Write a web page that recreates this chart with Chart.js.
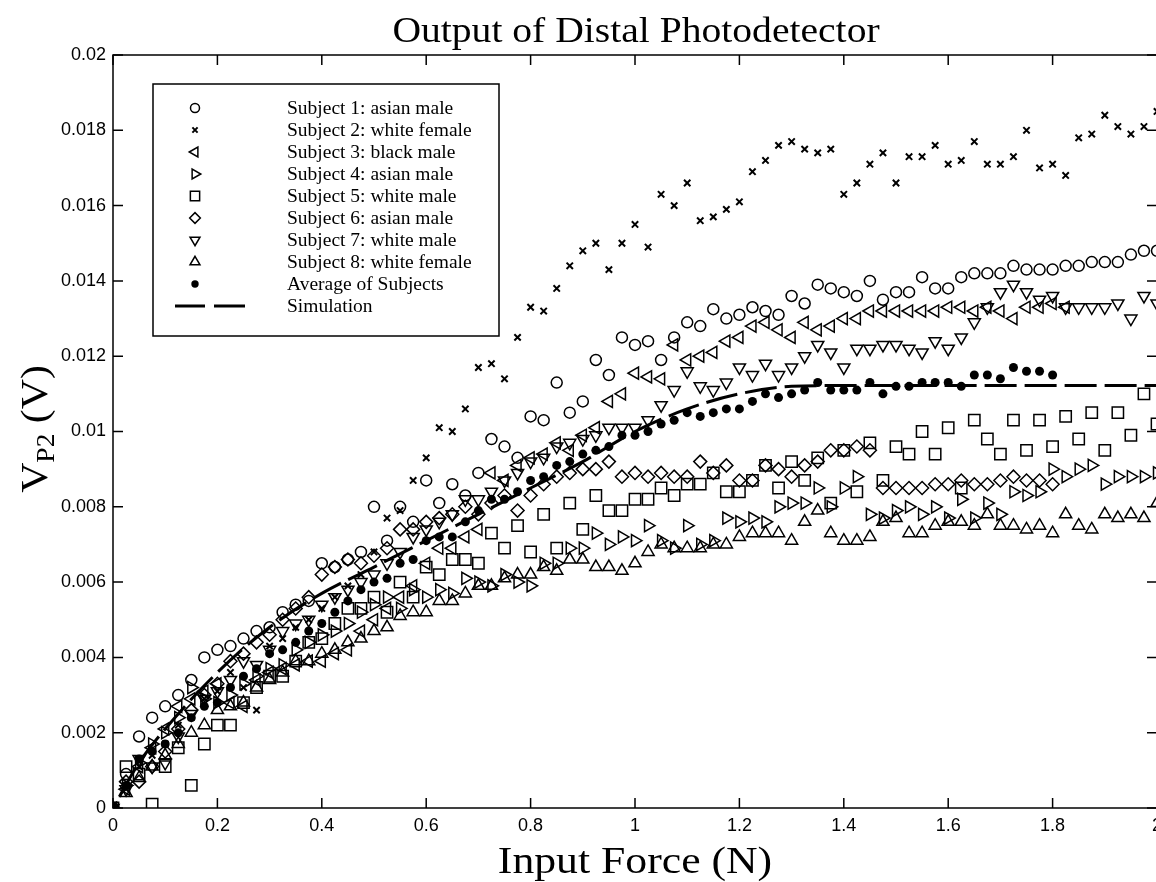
<!DOCTYPE html>
<html>
<head>
<meta charset="utf-8">
<script src="https://cdn.jsdelivr.net/npm/chart.js@4/dist/chart.umd.min.js"></script>
<style>
html,body{margin:0;padding:0;background:#fff;overflow:hidden;width:1156px;height:882px;}
canvas{display:block;}
</style>
</head>
<body>
<canvas id="c" width="1170" height="882"></canvas>
<script>
// ---- data ----
const forces = [0,0.025,0.05,0.075,0.1,0.125,0.15,0.175,0.2,0.225,
 0.25,0.275,0.3,0.325,0.35,0.375,0.4,0.425,0.45,0.475,
 0.5,0.525,0.55,0.575,0.6,0.625,0.65,0.675,0.7,0.725,
 0.75,0.775,0.8,0.825,0.85,0.875,0.9,0.925,0.95,0.975,
 1.0,1.025,1.05,1.075,1.1,1.125,1.15,1.175,1.2,1.225,
 1.25,1.275,1.3,1.325,1.35,1.375,1.4,1.425,1.45,1.475,
 1.5,1.525,1.55,1.575,1.6,1.625,1.65,1.675,1.7,1.725,
 1.75,1.775,1.8,1.825,1.85,1.875,1.9,1.925,1.95,1.975,
 2.0];

const subject1 = [0,0.0009,0.0019,0.0024,0.0027,0.0030,0.0034,0.0040,0.0042,0.0043,
 0.0045,0.0047,0.0048,0.0052,0.0054,0.0055,0.0065,0.0064,0.0066,0.0068,
 0.0080,0.0071,0.0080,0.0076,0.0087,0.0081,0.0086,0.0083,0.0089,0.0098,
 0.0096,0.0093,0.0104,0.0103,0.0113,0.0105,0.0108,0.0119,0.0115,0.0125,
 0.0123,0.0124,0.0119,0.0125,0.0129,0.0128,0.01325,0.0130,0.0131,0.0133,
 0.0132,0.0131,0.0136,0.0134,0.0139,0.0138,0.0137,0.0136,0.0140,0.0135,
 0.0137,0.0137,0.0141,0.0138,0.0138,0.0141,0.0142,0.0142,0.0142,0.0144,
 0.0143,0.0143,0.0143,0.0144,0.0144,0.0145,0.0145,0.0145,0.0147,0.0148,
 0.0148];

const subject2 = [0,0.0005,0.0011,0.0014,0.0017,0.0022,0.0024,0.0029,0.0031,0.0036,
 0.0032,0.0026,0.0043,0.0045,0.0048,0.0050,0.0053,0.0056,0.0059,0.0062,
 0.0068,0.0077,0.0079,0.0087,0.0093,0.0101,0.0100,0.0106,0.0117,0.0118,
 0.0114,0.0125,0.0133,0.0132,0.0138,0.0144,0.0148,0.0150,0.0143,0.0150,
 0.0155,0.0149,0.0163,0.0160,0.0166,0.0156,0.0157,0.0159,0.0161,0.0169,
 0.0172,0.0176,0.0177,0.0175,0.0174,0.0175,0.0163,0.0166,0.0171,0.0174,
 0.0166,0.0173,0.0173,0.0176,0.0171,0.0172,0.0177,0.0171,0.0171,0.0173,
 0.0180,0.0170,0.0171,0.0168,0.0178,0.0179,0.0184,0.0181,0.0179,0.0181,
 0.0185];

const subject3 = [0,0.0005,0.0011,0.0016,0.0021,0.0027,0.0029,0.0031,0.0033,0.0028,
 0.0027,0.0034,0.0036,0.0037,0.0038,0.0039,0.0039,0.0041,0.0042,0.0047,
 0.0050,0.0053,0.0056,0.0059,0.0065,0.0069,0.0069,0.0072,0.0074,0.0089,
 0.0087,0.0091,0.0093,0.0094,0.0097,0.0095,0.0099,0.0101,0.0108,0.0110,
 0.01155,0.01145,0.0114,0.0123,0.0119,0.0120,0.0121,0.0124,0.0125,0.0128,
 0.0129,0.0127,0.0125,0.0129,0.0127,0.0128,0.0130,0.0130,0.0132,0.0132,
 0.0132,0.0132,0.0132,0.0132,0.0133,0.0133,0.0132,0.0133,0.0132,0.0130,
 0.0133,0.0133,0.0134,0.0133,null,null,null,null,null,null,
 null];

const subject4 = [0,0.0006,0.0012,0.0017,0.0020,0.0024,0.0032,0.0029,0.0028,0.0030,
 0.0033,0.0035,0.0037,0.0038,0.0042,0.0044,0.0046,0.0047,0.0049,0.0052,
 0.0054,0.0056,0.0053,0.0058,0.0056,0.0058,0.0057,0.0061,0.0060,0.0059,
 0.0062,0.0060,0.0059,0.0065,0.0065,0.0069,0.0069,0.0073,0.0070,0.0072,
 0.0071,0.0075,0.0071,0.0069,0.0075,0.0070,0.0071,0.0077,0.0076,0.0077,
 0.0076,0.0080,0.0081,0.0081,0.0085,0.0080,0.0085,0.0088,0.0078,0.0077,
 0.0079,0.0080,0.0078,0.0080,0.0077,0.0082,0.0077,0.0081,0.0078,0.0084,
 0.0083,0.0084,0.0090,0.0088,0.0090,0.0091,0.0086,0.0088,0.0088,0.0088,
 0.0089];

const subject5 = [0,0.0011,0.0009,0.0001,0.0011,0.0016,0.0006,0.0017,0.0022,0.0022,
 0.0028,0.0032,0.0035,0.0035,0.0039,0.0044,0.0045,0.0049,0.0053,0.0053,
 0.0056,0.0052,0.0060,0.0056,0.0064,0.0062,0.0066,0.0066,0.0065,0.0073,
 0.0069,0.0075,0.0068,0.0078,0.0069,0.0081,0.0074,0.0083,0.0079,0.0079,
 0.0082,0.0082,0.0085,0.0083,0.0086,0.0086,0.0089,0.0084,0.0084,0.0087,
 0.0091,0.0085,0.0092,0.0087,0.0093,0.0081,0.0095,0.0084,0.0097,0.0087,
 0.0096,0.0094,0.0100,0.0094,0.0101,0.0085,0.0103,0.0098,0.0094,0.0103,
 0.0095,0.0103,0.0096,0.0104,0.0098,0.0105,0.0095,0.0105,0.0099,0.0110,
 0.0102];

const subject6 = [0,0.0007,0.0007,0.0011,0.0015,0.0021,0.0026,0.0030,0.0033,0.0039,
 0.0041,0.0044,0.0046,0.0050,0.0053,0.0056,0.0062,0.0064,0.0066,0.0065,
 0.0067,0.0069,0.0074,0.0074,0.0076,0.0077,0.0078,0.0080,0.0078,0.0081,
 0.0083,0.0079,0.0083,0.0086,0.0088,0.0089,0.0090,0.0090,0.0092,0.0088,
 0.0089,0.0088,0.0089,0.0088,0.0088,0.0092,0.0089,0.0091,0.0087,0.0087,
 0.0091,0.0090,0.0088,0.0091,0.0092,0.0095,0.0095,0.0096,0.0095,0.0085,
 0.0085,0.0085,0.0085,0.0086,0.0086,0.0087,0.0086,0.0086,0.0087,0.0088,
 0.0087,0.0087,0.0086,null,null,null,null,null,null,null,
 null];

const subject7 = [0,0.0005,0.0013,0.0011,0.0012,0.0019,0.0025,0.0029,0.0031,0.0034,
 0.0039,0.0038,0.0042,0.0047,0.0049,0.0050,0.0054,0.0056,0.0058,0.0060,
 0.0062,0.0065,0.0068,0.0072,0.0074,0.0076,0.0078,0.0082,0.0082,0.0084,
 0.0087,0.0089,0.0092,0.0093,0.0096,0.0097,0.0098,0.0099,0.0101,0.0101,
 0.0101,0.0103,0.0107,0.0111,0.0116,0.0112,0.0111,0.0113,0.0117,0.0115,
 0.0118,0.0115,0.0117,0.0120,0.0123,0.0121,0.0117,0.0122,0.0122,0.0123,
 0.0123,0.0122,0.0121,0.0124,0.0122,0.0125,0.0129,0.0133,0.0137,0.0139,
 0.0137,0.0135,0.0136,0.0133,0.0133,0.0133,0.0133,0.0134,0.0130,0.0136,
 0.0134];

const subject8 = [0,0.0004,0.0008,0.0011,0.0014,0.0017,0.0020,0.0022,0.0026,0.0027,
 0.0028,0.0032,0.0034,0.0036,0.0039,0.0039,0.0041,0.0042,0.0044,0.0045,
 0.0047,0.0048,0.0051,0.0052,0.0052,0.0055,0.0055,0.0057,0.0059,0.0059,
 0.0061,0.0062,0.0062,0.0064,0.0063,0.0066,0.0066,0.0064,0.0064,0.0063,
 0.0065,0.0068,0.0070,0.0069,0.0069,0.0069,0.0070,0.0070,0.0072,0.0073,
 0.0073,0.0073,0.0071,0.0076,0.0079,0.0073,0.0071,0.0071,0.0072,0.0076,
 0.0077,0.0073,0.0073,0.0075,0.0076,0.0076,0.0075,0.0078,0.0075,0.0075,
 0.0074,0.0075,0.0073,0.0078,0.0075,0.0074,0.0078,0.0077,0.0078,0.0077,
 0.0081];

const average = [0,0.0006,0.0013,0.0015,0.0017,0.0020,0.0024,0.0027,0.0028,0.0032,
 0.0035,0.0037,0.0041,0.0042,0.0044,0.0047,0.0049,0.0052,0.0055,0.0058,
 0.0060,0.0061,0.0065,0.0066,0.0071,0.0072,0.0072,0.0076,0.0079,0.0082,
 0.0082,0.0084,0.0087,0.0088,0.0091,0.0092,0.0094,0.0095,0.0096,0.0099,
 0.0099,0.0100,0.0102,0.0103,0.0105,0.0104,0.0105,0.0106,0.0106,0.0108,
 0.0110,0.0109,0.0110,0.0111,0.0113,0.0111,0.0111,0.0111,0.0113,0.0110,
 0.0112,0.0112,0.0113,0.0113,0.0113,0.0112,0.0115,0.0115,0.0114,0.0117,
 0.0116,0.0116,0.0115,null,null,null,null,null,null,null,
 null];

const simForce = [0,0.05,0.1,0.2,0.3,0.4,0.5,0.6,0.7,0.8,0.9,1.0,1.1,1.2,1.3,1.4,1.6,1.8,2.0];
const simValue = [0,0.0012,0.0021,0.0036,0.0048,0.0057,0.0064,0.0071,0.0078,0.0085,0.0092,0.0100,0.0106,0.0110,0.0112,0.01122,0.01122,0.01122,0.01122];

const xTicks = [0,0.2,0.4,0.6,0.8,1,1.2,1.4,1.6,1.8,2];
const yTicks = [0,0.002,0.004,0.006,0.008,0.01,0.012,0.014,0.016,0.018,0.02];

const labels = ['Subject 1: asian male','Subject 2: white female','Subject 3: black male',
 'Subject 4: asian male','Subject 5: white male','Subject 6: asian male',
 'Subject 7: white male','Subject 8: white female','Average of Subjects','Simulation'];

// ---- build datasets ----
function pts(xs, ys){ const out=[]; for(let i=0;i<xs.length;i++){ if(ys[i]!==null && ys[i]!==undefined) out.push({x:xs[i], y:ys[i]}); } return out; }
const HOLLOW='rgba(0,0,0,0)';
function marker(label, ys, style, radius, rotation, bw){
  return {label, data: pts(forces, ys), showLine:false, pointStyle:style, pointRadius:radius,
    pointHoverRadius:radius, pointRotation:rotation, pointBorderWidth:bw,
    borderColor:'#000', backgroundColor:HOLLOW, pointBackgroundColor:HOLLOW, pointBorderColor:'#000'};
}
const datasets = [
  marker(labels[0], subject1, 'circle', 5.5, 0, 1.5),
  marker(labels[1], subject2, 'crossRot', 4.5, 0, 2),
  marker(labels[2], subject3, 'triangle', 7, 270, 1.5),
  marker(labels[3], subject4, 'triangle', 7, 90, 1.5),
  marker(labels[4], subject5, 'rect', 8, 0, 1.5),
  marker(labels[5], subject6, 'rectRot', 6.5, 0, 1.5),
  marker(labels[6], subject7, 'triangle', 7, 180, 1.5),
  marker(labels[7], subject8, 'triangle', 7, 0, 1.5),
  {label: labels[8], data: pts(forces, average), showLine:false, pointStyle:'circle', pointRadius:4.5,
    pointBorderWidth:0, pointBackgroundColor:'#000', pointBorderColor:'#000', backgroundColor:'#000', borderColor:'#000'},
  {label: labels[9], data: pts(simForce, simValue), showLine:true, pointRadius:0, borderColor:'#000',
    borderWidth:3, borderDash:[32,8], borderDashOffset:27, cubicInterpolationMode:'monotone', fill:false}
];

// draw text stretched horizontally (in its own direction) to match the scanned figure
function stretchedText(ctx, text, x, y, sx){
  ctx.save(); ctx.translate(x, y); ctx.scale(sx, 1); ctx.fillText(text, 0, 0); ctx.restore();
}

// ---- plugins ----
const framePlugin = {
  id:'frame',
  afterDraw(chart){
    const ctx=chart.ctx, a=chart.chartArea, xs=chart.scales.x, ys=chart.scales.y;
    ctx.save();
    ctx.strokeStyle='#000'; ctx.lineWidth=1.5;
    ctx.strokeRect(a.left, a.top, a.right-a.left, a.bottom-a.top);
    ctx.beginPath();
    xTicks.forEach(v=>{ const x=xs.getPixelForValue(v);
      ctx.moveTo(x,a.bottom); ctx.lineTo(x,a.bottom-10);
      ctx.moveTo(x,a.top); ctx.lineTo(x,a.top+10); });
    yTicks.forEach(v=>{ const y=ys.getPixelForValue(v);
      ctx.moveTo(a.left,y); ctx.lineTo(a.left+10,y);
      ctx.moveTo(a.right,y); ctx.lineTo(a.right-10,y); });
    ctx.stroke();
    // titles
    ctx.fillStyle='#000';
    ctx.textAlign='center'; ctx.textBaseline='alphabetic';
    ctx.font='36px "Liberation Serif"';
    stretchedText(ctx, 'Output of Distal Photodetector', 636, 42, 1.1);
    ctx.font='38px "Liberation Serif"';
    stretchedText(ctx, 'Input Force (N)', 635, 873, 1.15);
    // y title with subscript
    ctx.save();
    ctx.translate(47, 429); ctx.rotate(-Math.PI/2); ctx.scale(1.1, 1);
    const big='38px "Liberation Serif"', small='25px "Liberation Serif"';
    ctx.font=big; const wV=ctx.measureText('V').width, wR=ctx.measureText(' (V)').width;
    ctx.font=small; const wS=ctx.measureText('P2').width;
    let x=-(wV+wS+wR)/2;
    ctx.textAlign='left';
    ctx.font=big; ctx.fillText('V', x, 0); x+=wV;
    ctx.font=small; ctx.fillText('P2', x, 7); x+=wS;
    ctx.font=big; ctx.fillText(' (V)', x, 0);
    ctx.restore();
    // legend
    ctx.lineWidth=1.5; ctx.strokeStyle='#000';
    ctx.strokeRect(153, 84, 346, 252);
    ctx.font='19.5px "Liberation Serif"'; ctx.textAlign='left'; ctx.textBaseline='middle';
    chart.data.datasets.forEach((ds,i)=>{
      const y=108+22*i;
      if(i<9){
        ctx.save();
        ctx.strokeStyle='#000';
        ctx.fillStyle = ds.pointBackgroundColor;
        ctx.lineWidth = ds.pointBorderWidth || 0;
        Chart.helpers.drawPoint(ctx, {pointStyle:ds.pointStyle, rotation:ds.pointRotation||0,
          radius:ds.pointRadius*0.82, borderWidth:ds.pointBorderWidth||0}, 195, y);
        ctx.restore();
      } else {
        ctx.save(); ctx.lineWidth=3; ctx.beginPath();
        ctx.moveTo(175,y); ctx.lineTo(205,y); ctx.moveTo(214,y); ctx.lineTo(245,y); ctx.stroke(); ctx.restore();
      }
      ctx.fillStyle='#000';
      ctx.fillText(ds.label, 287, y+1);
    });
    ctx.restore();
  }
};

Chart.defaults.font.family='"Liberation Sans", Arial, sans-serif';
Chart.defaults.color='#000';

new Chart(document.getElementById('c'), {
  type:'scatter',
  data:{datasets},
  options:{
    responsive:false, animation:false, devicePixelRatio:1,
    layout:{padding:{left:0, right:13, top:55, bottom:0}},
    plugins:{legend:{display:false}, tooltip:{enabled:false}, title:{display:false}},
    scales:{
      x:{type:'linear', min:0, max:2,
         grid:{display:false, drawTicks:false}, border:{display:false},
         afterBuildTicks(s){ s.ticks = xTicks.map(v=>({value:v})); },
         afterFit(s){ s.height=74; },
         ticks:{autoSkip:false, maxRotation:0, padding:7, font:{size:18},
           callback:(v)=> String(+(+v).toFixed(1)) }},
      y:{type:'linear', min:0, max:0.02,
         grid:{display:false, drawTicks:false}, border:{display:false},
         afterBuildTicks(s){ s.ticks = yTicks.map(v=>({value:v})); },
         afterFit(s){ s.width=113; },
         ticks:{autoSkip:false, padding:7, font:{size:18},
           callback:(v)=> String(+(+v).toFixed(3)) }}
    }
  },
  plugins:[framePlugin]
});
</script>
</body>
</html>
